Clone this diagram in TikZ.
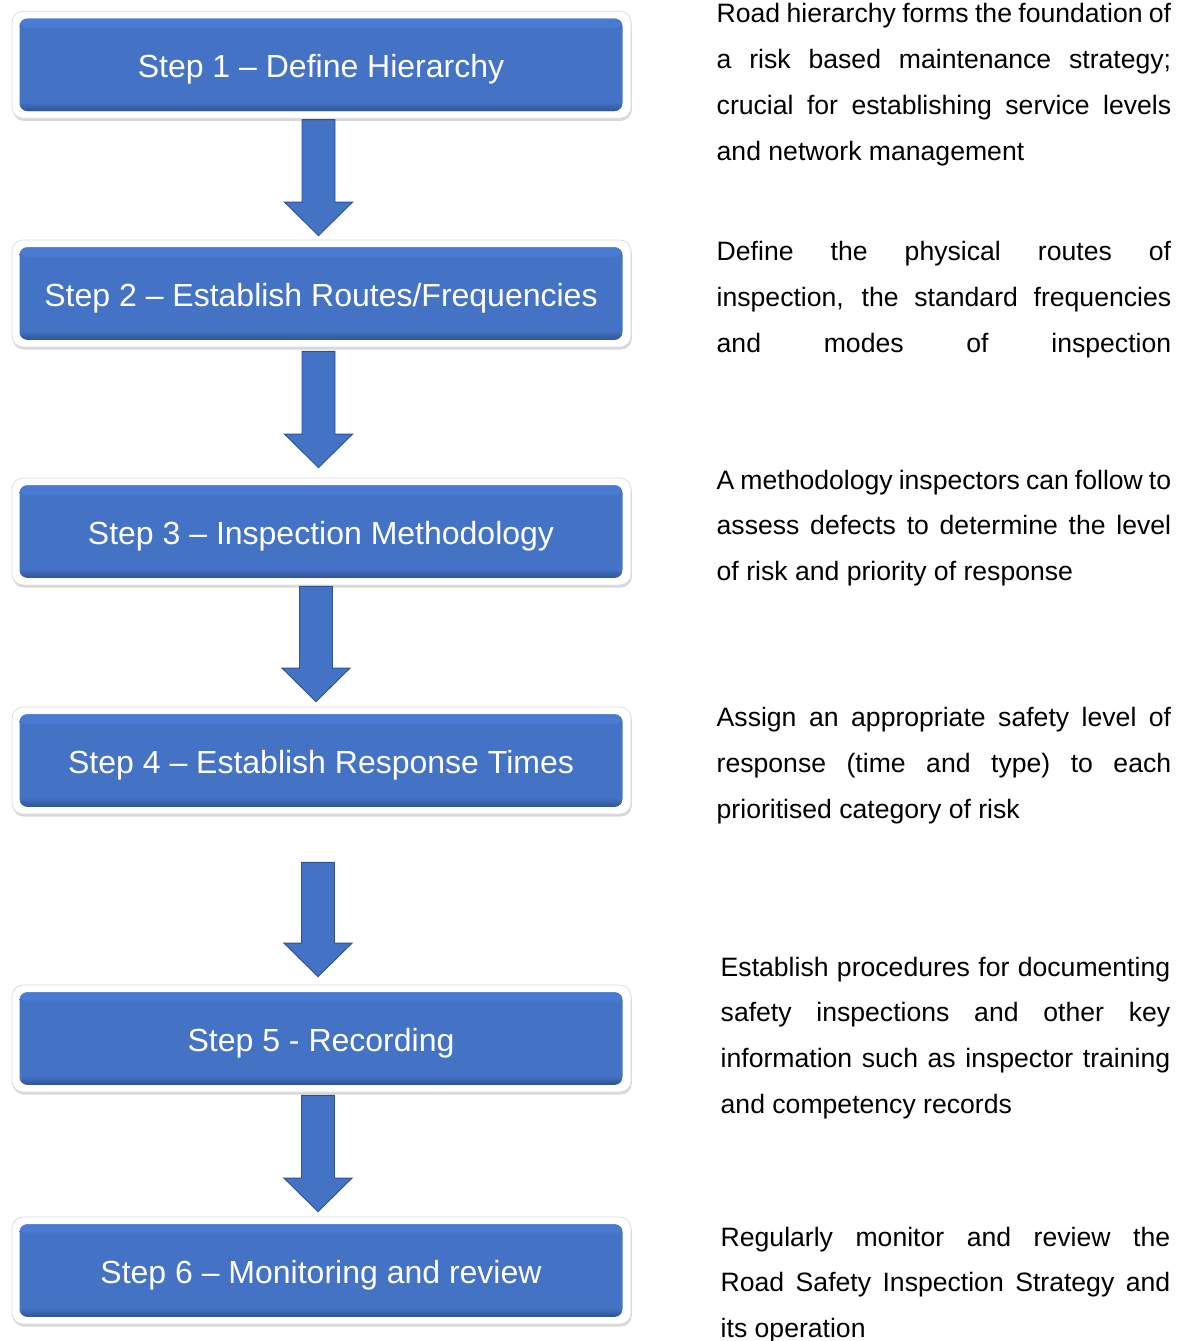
\documentclass[tikz,border=0pt]{standalone}
\usepackage{fontspec}
\setmainfont{Liberation Sans}
\usetikzlibrary{calc,shadows}
\definecolor{stepblue}{HTML}{4472C4}
\definecolor{steptop}{HTML}{4A7BD3}
\definecolor{stepbot}{HTML}{2F5496}
\definecolor{arrowline}{HTML}{2F528F}
\newcommand\descfont{\fontsize{26.6}{45.8}\selectfont}
\newcommand\jline[1]{\makebox[\linewidth][s]{#1}\par}
\newcommand\eline[1]{#1\par}
\newcommand\blockarrow[2]{%
  \draw[blockarrow] let \p1=(#1), \p2=(#2) in
    (\x1-16.5pt,\y1) -- (\x1+16.5pt,\y1) -- (\x1+16.5pt,\y2+33.5pt) --
    (\x1+34pt,\y2+33.5pt) -- (\x1,\y2) -- (\x1-34pt,\y2+33.5pt) --
    (\x1-16.5pt,\y2+33.5pt) -- cycle;}
\begin{document}
\begin{tikzpicture}[x=1pt,y=-1pt,
  frame/.style={draw=black!14, line width=0.7pt, fill=white, rounded corners=11pt,
    minimum width=619pt, minimum height=107pt, inner sep=0pt,
    drop shadow={shadow xshift=0.8pt, shadow yshift=-2.5pt, opacity=0.22, fill=black!70}},
  stepbox/.style={rounded corners=8pt, minimum width=603pt, minimum height=92.5pt,
    inner sep=0pt, fill=stepblue, text=white,
    font=\fontsize{32}{38}\selectfont, text height=26pt, text depth=0pt,
    path picture={
      \shade[top color=steptop, bottom color=stepblue]
        (path picture bounding box.north west) rectangle ([yshift=-10pt]path picture bounding box.north east);
      \shade[top color=stepblue, bottom color=stepbot]
        ([yshift=9pt]path picture bounding box.south west) rectangle (path picture bounding box.south east);
    }},
  desc/.style={anchor=base west, inner sep=0pt, text=black},
  blockarrow/.style={fill=stepblue, draw=arrowline, line width=0.9pt, line join=miter}]
\useasboundingbox (0,0) rectangle (1177,1341);
\fill[white] (0,0) rectangle (1177,1341);

% frames
\node[frame] (f1) at (321.5,64.8) {};
\node[frame] (f2) at (321.5,293.5) {};
\node[frame] (f3) at (321.5,531.5) {};
\node[frame] (f4) at (321.5,760.5) {};
\node[frame] (f5) at (321.5,1038.5) {};
\node[frame] (f6) at (321.5,1270.5) {};

% step boxes
\node[stepbox] (s1) at ([xshift=-0.5pt]f1.center) {Step 1 – Define Hierarchy};
\node[stepbox] (s2) at ([xshift=-0.5pt]f2.center) {Step 2 – Establish Routes/Frequencies};
\node[stepbox] (s3) at ([xshift=-0.5pt]f3.center) {Step 3 – Inspection Methodology};
\node[stepbox] (s4) at ([xshift=-0.5pt]f4.center) {Step 4 – Establish Response Times};
\node[stepbox] (s5) at ([xshift=-0.5pt]f5.center) {Step 5 - Recording};
\node[stepbox] (s6) at ([xshift=-0.5pt]f6.center) {Step 6 – Monitoring and review};

% arrow end points
\coordinate (a1s) at ([xshift=-3pt,yshift=-1pt]f1.south);
\coordinate (a1e) at ([xshift=-3pt,yshift=4pt]f2.north);
\coordinate (a2s) at ([xshift=-3pt,yshift=-4pt]f2.south);
\coordinate (a2e) at ([xshift=-3pt,yshift=10pt]f3.north);
\coordinate (a3s) at ([xshift=-5.5pt,yshift=-1pt]f3.south);
\coordinate (a3e) at ([xshift=-5.5pt,yshift=5pt]f4.north);
\coordinate (a4s) at ([xshift=-3.5pt,yshift=-48pt]f4.south);
\coordinate (a4e) at ([xshift=-3.5pt,yshift=8pt]f5.north);
\coordinate (a5s) at ([xshift=-3.5pt,yshift=-3pt]f5.south);
\coordinate (a5e) at ([xshift=-3.5pt,yshift=5pt]f6.north);

\blockarrow{a1s}{a1e}
\blockarrow{a2s}{a2e}
\blockarrow{a3s}{a3e}
\blockarrow{a4s}{a4e}
\blockarrow{a5s}{a5e}

% descriptions
\node[desc] (d1) at (716.5,23) {\parbox[t]{454.5pt}{\descfont
  \jline{Road hierarchy forms the foundation of}
  \jline{a risk based maintenance strategy;}
  \jline{crucial for establishing service levels}
  \eline{and network management}}};
\node[desc] (d2) at (716.5,260.5) {\parbox[t]{454.5pt}{\descfont
  \jline{Define the physical routes of}
  \jline{inspection, the standard frequencies}
  \jline{and modes of inspection}}};
\node[desc] (d3) at (716.5,489) {\parbox[t]{454.5pt}{\descfont
  \jline{A methodology inspectors can follow to}
  \jline{assess defects to determine the level}
  \eline{of risk and priority of response}}};
\node[desc] (d4) at (716.5,726.5) {\parbox[t]{454.5pt}{\descfont
  \jline{Assign an appropriate safety level of}
  \jline{response (time and type) to each}
  \eline{prioritised category of risk}}};
\node[desc] (d5) at (720.5,976) {\parbox[t]{449.5pt}{\descfont
  \jline{Establish procedures for documenting}
  \jline{safety inspections and other key}
  \jline{information such as inspector training}
  \eline{and competency records}}};
\node[desc] (d6) at (720.5,1246) {\parbox[t]{449.5pt}{\descfont
  \jline{Regularly monitor and review the}
  \jline{Road Safety Inspection Strategy and}
  \eline{its operation}}};
\end{tikzpicture}
\end{document}
